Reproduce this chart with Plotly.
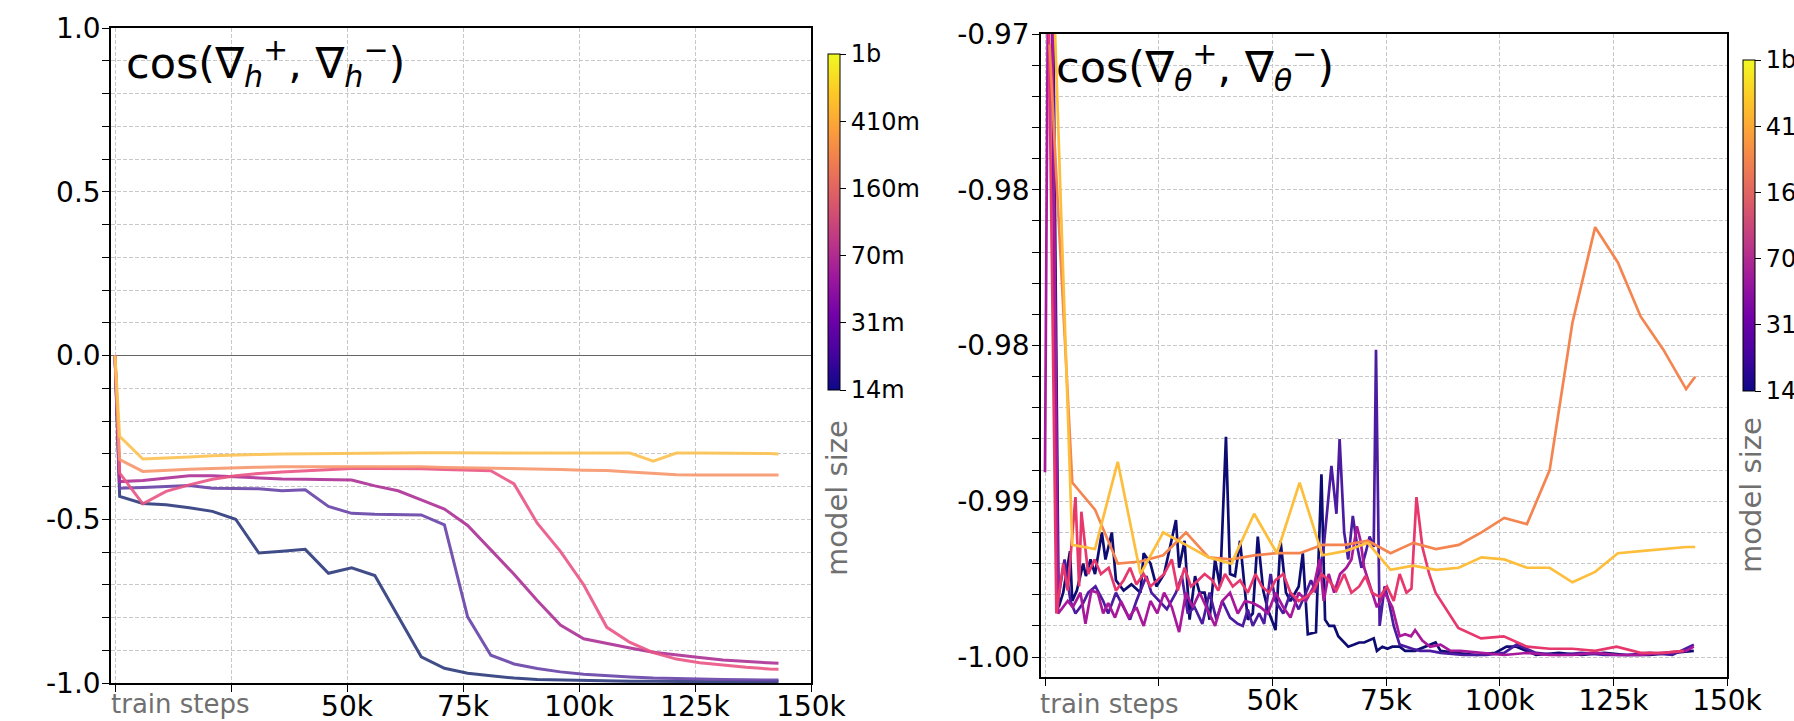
import plotly.graph_objects as go

# ---------------- data: left panel  cos(grad_h+, grad_h-) ----------------
steps_h = [0, 1000, 6000, 11000, 16000, 21000, 26000, 31000, 36000, 41000, 46000,
           51000, 56000, 61000, 66000, 71000, 76000, 81000, 86000, 91000, 96000,
           101000, 106000, 111000, 116000, 121000, 126000, 131000, 136000, 141000, 143000]

h_14m = [0, -0.430, -0.452, -0.456, -0.465, -0.476, -0.500, -0.603, -0.598, -0.592, -0.665,
         -0.648, -0.672, -0.798, -0.920, -0.955, -0.970, -0.978, -0.985, -0.989, -0.991,
         -0.993, -0.994, -0.995, -0.995, -0.996, -0.996, -0.996, -0.996, -0.996, -0.996]
h_31m = [0, -0.405, -0.403, -0.400, -0.397, -0.405, -0.407, -0.407, -0.413, -0.410, -0.461,
         -0.482, -0.485, -0.487, -0.487, -0.517, -0.798, -0.915, -0.942, -0.956, -0.966,
         -0.973, -0.978, -0.982, -0.985, -0.987, -0.988, -0.989, -0.990, -0.991, -0.991]
h_70m = [0, -0.385, -0.382, -0.375, -0.367, -0.367, -0.370, -0.375, -0.377, -0.378, -0.378,
         -0.380, -0.398, -0.413, -0.441, -0.469, -0.519, -0.592, -0.668, -0.748, -0.823,
         -0.865, -0.880, -0.893, -0.906, -0.915, -0.922, -0.930, -0.935, -0.939, -0.940]
h_160m = [0, -0.359, -0.453, -0.415, -0.395, -0.378, -0.367, -0.360, -0.356, -0.352, -0.349,
          -0.345, -0.345, -0.345, -0.346, -0.348, -0.350, -0.352, -0.392, -0.512, -0.598,
          -0.700, -0.830, -0.876, -0.907, -0.927, -0.938, -0.946, -0.952, -0.957, -0.958]
h_410m = [0, -0.318, -0.354, -0.350, -0.347, -0.345, -0.342, -0.341, -0.340, -0.340, -0.340,
          -0.338, -0.338, -0.339, -0.340, -0.342, -0.343, -0.343, -0.344, -0.345, -0.348,
          -0.350, -0.351, -0.356, -0.360, -0.364, -0.365, -0.365, -0.364, -0.363, -0.365]
h_1b = [0, -0.247, -0.316, -0.314, -0.310, -0.306, -0.303, -0.302, -0.301, -0.300, -0.299,
        -0.298, -0.298, -0.297, -0.297, -0.297, -0.297, -0.298, -0.298, -0.298, -0.298,
        -0.298, -0.298, -0.298, -0.323, -0.298, -0.298, -0.298, -0.298, -0.299, -0.301]

# ---------------- data: right panel  cos(grad_theta+, grad_theta-) ----------------
t14_steps = [1000, 3000, 4000, 5500, 6000, 7000, 8400, 9000, 10000, 11000, 12500, 13300, 14700,
             15600, 17300, 19000, 21000, 21700, 23200, 24500, 26200, 27500, 28800, 29500, 30700,
             31800, 33000, 34000, 35100, 36200, 37400, 38500, 39800, 40700, 41800, 42900, 44600,
             45700, 46800, 48000, 49000, 50700, 51800, 53000, 54000, 55800, 56700, 57800, 59600,
             60800, 61600, 62500, 63600, 64500, 66700, 68000, 69100, 70200, 72300, 73000, 74200,
             75300, 76400, 78000, 79200, 81400, 83600, 85900, 87000, 90300, 95000, 99000, 101500,
             103700, 108000, 113000, 118000, 123000, 128000, 133000, 138000, 142700]
t14 = [-0.9500, -0.9976, -0.9969, -0.9949, -0.9973, -0.9968, -0.9955, -0.9961, -0.9953, -0.9960,
       -0.9940, -0.9953, -0.9940, -0.9963, -0.9968, -0.9965, -0.9969, -0.9950, -0.9955, -0.9966,
       -0.9960, -0.9947, -0.9934, -0.9957, -0.9944, -0.9982, -0.9961, -0.9969, -0.9969, -0.9982,
       -0.9953, -0.9966, -0.9894, -0.9960, -0.9961, -0.9944, -0.9982, -0.9979, -0.9942, -0.9968,
       -0.9977, -0.9987, -0.9944, -0.9969, -0.9973, -0.9966, -0.9950, -0.9989, -0.9988, -0.9912,
       -0.9982, -0.9985, -0.9985, -0.9990, -0.9995, -0.9994, -0.9993, -0.9993, -0.9991, -0.9997,
       -0.9995, -0.9996, -0.9995, -0.9995, -0.9997, -0.9997, -0.9995, -0.9993, -0.9997, -0.9998,
       -0.9999, -0.9998, -0.9995, -0.9995, -0.9999, -0.9998, -0.9999, -0.9998, -0.9999, -0.9999,
       -0.9998, -0.9997]

t31_steps = [1000, 2600, 4300, 5600, 6700, 8400, 9500, 11100, 12800, 13900, 15600, 17300, 18700,
             20100, 22300, 23400, 25100, 26800, 28800, 30100, 31400, 32900, 34600, 36200, 37700,
             39000, 40700, 42400, 43500, 44600, 45700, 47100, 48200, 49600, 50700, 52400, 54000,
             55800, 57400, 58500, 59600, 61300, 63000, 64100, 64800, 65800, 66700, 67700, 68700,
             69600, 70500, 71400, 72300, 72800, 73600, 74700, 75600, 76700, 78000, 79200, 80800,
             82500, 84700, 87000, 92000, 97000, 101000, 103700, 108000, 113000, 118000, 123000,
             128000, 133000, 138000, 142700]
t31 = [-0.9550, -0.9976, -0.9953, -0.9973, -0.9979, -0.9974, -0.9969, -0.9966, -0.9973, -0.9979,
       -0.9969, -0.9976, -0.9982, -0.9973, -0.9961, -0.9969, -0.9973, -0.9977, -0.9969, -0.9961,
       -0.9979, -0.9976, -0.9984, -0.9969, -0.9982, -0.9973, -0.9981, -0.9984, -0.9985, -0.9977,
       -0.9985, -0.9979, -0.9984, -0.9960, -0.9973, -0.9979, -0.9969, -0.9977, -0.9969, -0.9963,
       -0.9969, -0.9947, -0.9908, -0.9931, -0.9895, -0.9940, -0.9953, -0.9932, -0.9947, -0.9957,
       -0.9950, -0.9942, -0.9947, -0.9852, -0.9985, -0.9966, -0.9973, -0.9985, -0.9994, -0.9995,
       -0.9996, -0.9997, -0.9997, -0.9998, -0.9999, -0.9999, -0.9998, -0.9994, -0.9998, -0.9999,
       -0.9998, -0.9999, -0.9999, -0.9998, -0.9999, -0.9994]

t70_steps = [0, 1000, 2900, 5000, 6100, 7800, 8900, 10200, 11600, 12800, 13900, 15400, 16700,
             18400, 20100, 21700, 23200, 24700, 26200, 27900, 29500, 31000, 32500, 34000, 35700,
             37400, 39000, 40700, 42400, 44000, 45700, 47400, 49000, 50700, 52400, 54000, 55800,
             57400, 59100, 60400, 61300, 62400, 63600, 64900, 66300, 67400, 68600, 69400, 70200,
             71900, 73000, 74700, 76400, 78000, 79200, 80500, 81400, 83000, 84700, 87000, 89200,
             91400, 96000, 101000, 106000, 111000, 116000, 121000, 126000, 131000, 136000, 141000,
             142700]
t70 = [-0.9911, -0.9550, -0.9979, -0.9973, -0.9976, -0.9969, -0.9984, -0.9968, -0.9969, -0.9979,
       -0.9974, -0.9981, -0.9973, -0.9981, -0.9976, -0.9985, -0.9973, -0.9979, -0.9969, -0.9976,
       -0.9988, -0.9969, -0.9976, -0.9969, -0.9977, -0.9985, -0.9973, -0.9969, -0.9979, -0.9973,
       -0.9974, -0.9976, -0.9979, -0.9969, -0.9976, -0.9981, -0.9969, -0.9973, -0.9966, -0.9953,
       -0.9973, -0.9960, -0.9969, -0.9960, -0.9957, -0.9953, -0.9937, -0.9944, -0.9957, -0.9969,
       -0.9976, -0.9969, -0.9976, -0.9990, -0.9989, -0.9990, -0.9987, -0.9992, -0.9995, -0.9994,
       -0.9997, -0.9997, -0.9998, -0.9999, -0.9998, -0.9999, -0.9999, -0.9998, -0.9999, -0.9999,
       -0.9998, -0.9997, -0.9995]

t160_steps = [0, 2500, 4000, 5000, 6700, 7500, 8000, 9500, 10900, 12300, 14000, 15600, 17300,
              18700, 20100, 21700, 23200, 24700, 26200, 27900, 29200, 30700, 32100, 33700, 35100,
              36800, 38100, 39600, 41300, 42900, 44600, 46300, 47700, 49300, 50700, 52400, 54000,
              55800, 57400, 59100, 60800, 62400, 64100, 65800, 67400, 69100, 70500, 71900, 73600,
              75200, 76700, 78000, 79500, 80600, 81700, 83000, 84500, 85900, 90900, 95900, 100900,
              106000, 111000, 116000, 121000, 125700, 131000, 136000, 140500]
t160 = [-0.9550, -0.9979, -0.9955, -0.9968, -0.9923, -0.9966, -0.9930, -0.9960, -0.9953, -0.9960,
        -0.9957, -0.9968, -0.9963, -0.9957, -0.9965, -0.9960, -0.9966, -0.9963, -0.9960, -0.9953,
        -0.9968, -0.9957, -0.9966, -0.9963, -0.9960, -0.9963, -0.9968, -0.9960, -0.9966, -0.9963,
        -0.9969, -0.9960, -0.9966, -0.9969, -0.9963, -0.9960, -0.9969, -0.9973, -0.9971, -0.9968,
        -0.9960, -0.9963, -0.9968, -0.9960, -0.9969, -0.9966, -0.9961, -0.9969, -0.9971, -0.9966,
        -0.9973, -0.9960, -0.9969, -0.9967, -0.9923, -0.9947, -0.9960, -0.9969, -0.9986, -0.9991,
        -0.9990, -0.9995, -0.9996, -0.9996, -0.9997, -0.9995, -0.9998, -0.9998, -0.9997]

t_sparse_steps = [1000, 6000, 11000, 16000, 21000, 26000, 31000, 36000, 41000, 46000, 51000,
                  56000, 61000, 66000, 71000, 76000, 81000, 86000, 91000, 96000, 101000, 106000,
                  111000, 116000, 121000, 126000, 131000, 136000, 141000, 143000]
t410 = [-0.9705, -0.9916, -0.9929, -0.9955, -0.9954, -0.9951, -0.9940, -0.9952, -0.9953, -0.9951,
        -0.9950, -0.9950, -0.9946, -0.9946, -0.9944, -0.9950, -0.9945, -0.9948, -0.9946, -0.9940,
        -0.9933, -0.9936, -0.9910, -0.9839, -0.9793, -0.9810, -0.9836, -0.9852, -0.9871, -0.9865]
t1b = [-0.9620, -0.9946, -0.9948, -0.9906, -0.9960, -0.9940, -0.9946, -0.9952, -0.9955, -0.9931,
       -0.9950, -0.9916, -0.9951, -0.9949, -0.9945, -0.9958, -0.9956, -0.9958, -0.9957, -0.9952,
       -0.9953, -0.9957, -0.9957, -0.9964, -0.9959, -0.9950, -0.9949, -0.9948, -0.9947, -0.9947]

size_labels = ["14m", "31m", "70m", "160m", "410m", "1b"]
x_tickvals = [0, 25000, 50000, 75000, 100000, 125000, 150000]
x_ticktext = ["", "", "50k", "75k", "100k", "125k", "150k"]
left_ytickvals = [-1.0, -0.5, 0.0, 0.5, 1.0]
left_yticktext = ["-1.0", "-0.5", "0.0", "0.5", "1.0"]
right_ytickvals = [-1.0, -0.9925, -0.985, -0.9775, -0.97]
right_yticktext = ["-1.00", "-0.99", "-0.98", "-0.98", "-0.97"]

# ---------------- styling ----------------
left_colors = ["#2d3a7c", "#6843a8", "#ac3095", "#ea5584", "#f7966c", "#fcc251"]
right_colors = ["#0e0b72", "#4b1ba0", "#a8189a", "#e6386d", "#f48550", "#fcbe3c"]
FONT = "DejaVu Sans"
W, H = 1794, 721

fig = go.Figure()

left_series = [h_14m, h_31m, h_70m, h_160m, h_410m, h_1b]
for vals, col in zip(left_series, left_colors):
    fig.add_trace(go.Scatter(x=steps_h, y=vals, mode="lines", xaxis="x", yaxis="y",
                             line=dict(color=col, width=3), opacity=0.9, showlegend=False))

right_series = [(t14_steps, t14), (t31_steps, t31), (t70_steps, t70), (t160_steps, t160),
                (t_sparse_steps, t410), (t_sparse_steps, t1b)]
for (xs, vals), col in zip(right_series, right_colors):
    fig.add_trace(go.Scatter(x=xs, y=vals, mode="lines", xaxis="x2", yaxis="y2",
                             line=dict(color=col, width=2.7), showlegend=False))

def cbar(xpx, ytop, lenpx):
    return dict(x=xpx / W, xanchor="left", xpad=0, y=1 - ytop / H, yanchor="top", ypad=0,
                thickness=12, thicknessmode="pixels", len=lenpx, lenmode="pixels",
                outlinewidth=1, outlinecolor="black", ticks="outside", ticklen=6,
                tickwidth=1.2, tickcolor="black", tickmode="array",
                tickvals=list(range(len(size_labels))), ticktext=size_labels,
                tickfont=dict(family=FONT, size=24, color="black"))

fig.add_trace(go.Scatter(x=[-50000], y=[0], mode="markers", xaxis="x", yaxis="y",
                         marker=dict(color=[0], colorscale="Plasma", cmin=0, cmax=5, size=1,
                                     opacity=0, showscale=True, colorbar=cbar(828, 54, 336)),
                         showlegend=False, hoverinfo="skip"))
fig.add_trace(go.Scatter(x=[-50000], y=[-0.98], mode="markers", xaxis="x2", yaxis="y2",
                         marker=dict(color=[0], colorscale="Plasma", cmin=0, cmax=5, size=1,
                                     opacity=0, showscale=True, colorbar=cbar(1743, 60, 331)),
                         showlegend=False, hoverinfo="skip"))

grid_col = "#c8c8c8"
dash = "4px,2px"
common_x = dict(tickmode="array", tickvals=x_tickvals, ticktext=x_ticktext,
                showgrid=True, gridcolor=grid_col, griddash=dash, gridwidth=1,
                showline=True, linecolor="black", linewidth=1.5, mirror=True,
                ticks="outside", ticklen=7, tickwidth=1.2, tickcolor="black",
                ticklabelstandoff=-9,
                tickfont=dict(family=FONT, size=28, color="black"), zeroline=False)

fig.update_layout(
    width=W, height=H, margin=dict(l=0, r=0, t=0, b=0, autoexpand=False),
    paper_bgcolor="white", plot_bgcolor="white", showlegend=False,
    xaxis=dict(domain=[111 / W, 811 / W], range=[-862, 150000], anchor="y", **common_x),
    xaxis2=dict(domain=[1041 / W, 1727 / W], range=[-880, 150000], anchor="y2", **common_x),
    yaxis=dict(domain=[1 - 683 / H, 1 - 28 / H], range=[-1, 1], anchor="x",
               tickmode="array", tickvals=left_ytickvals, ticktext=left_yticktext,
               showgrid=True, gridcolor=grid_col, griddash=dash, gridwidth=1,
               minor=dict(tickmode="linear", tick0=0, dtick=0.1, showgrid=True,
                          gridcolor=grid_col, griddash=dash, gridwidth=1,
                          ticks="outside", ticklen=7, tickwidth=1.2, tickcolor="black"),
               showline=True, linecolor="black", linewidth=1.5, mirror=True,
               ticks="outside", ticklen=7, tickwidth=1.2, tickcolor="black",
               ticklabelstandoff=-4,
               tickfont=dict(family=FONT, size=28, color="black"),
               zeroline=True, zerolinecolor="#666666", zerolinewidth=1.3),
    yaxis2=dict(domain=[1 - 677 / H, 1 - 34 / H], range=[-1.00096, -0.97], anchor="x2",
                tickmode="array", tickvals=right_ytickvals, ticktext=right_yticktext,
                showgrid=True, gridcolor=grid_col, griddash=dash, gridwidth=1,
                minor=dict(tickmode="linear", tick0=-1.0, dtick=0.0015, showgrid=True,
                           gridcolor=grid_col, griddash=dash, gridwidth=1,
                           ticks="outside", ticklen=7, tickwidth=1.2, tickcolor="black"),
                showline=True, linecolor="black", linewidth=1.5, mirror=True,
                ticks="outside", ticklen=7, tickwidth=1.2, tickcolor="black",
                ticklabelstandoff=-3,
                tickfont=dict(family=FONT, size=28, color="black"), zeroline=False),
)

gray = "#707070"
ann = []
ann.append(dict(xref="paper", yref="paper", x=124 / W, y=1 - 30 / H, xanchor="left", yanchor="top",
                text="cos(∇<sub><i>h</i></sub><sup>+</sup>, ∇<sub><i>h</i></sub><sup>−</sup>)",
                showarrow=False, font=dict(family=FONT, size=43, color="black")))
ann.append(dict(xref="paper", yref="paper", x=1054 / W, y=1 - 34 / H, xanchor="left", yanchor="top",
                text="cos(∇<sub><i>θ</i></sub><sup>+</sup>, ∇<sub><i>θ</i></sub><sup>−</sup>)",
                showarrow=False, font=dict(family=FONT, size=43, color="black")))
for xc, yc in [(837, 498), (1751, 495)]:
    ann.append(dict(xref="paper", yref="paper", x=xc / W, y=1 - yc / H, xanchor="center",
                    yanchor="middle", text="model size", textangle=-90, showarrow=False,
                    font=dict(family=FONT, size=29, color=gray)))
for xl in [109, 1038]:
    ann.append(dict(xref="paper", yref="paper", x=xl / W, y=1 - 687 / H, xanchor="left",
                    yanchor="top", text="train steps", showarrow=False,
                    font=dict(family=FONT, size=26, color=gray)))
fig.update_layout(annotations=ann)

fig.write_html("out.html")
